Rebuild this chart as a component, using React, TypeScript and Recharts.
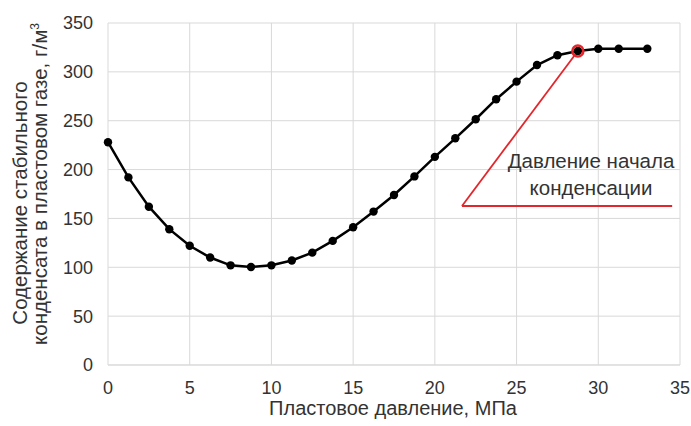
import React from "react";
import {
  ComposedChart,
  Line,
  XAxis,
  YAxis,
  CartesianGrid,
  ReferenceLine,
  ReferenceDot,
  Label,
} from "recharts";

const pressure = [0, 1.25, 2.5, 3.75, 5, 6.25, 7.5, 8.75, 10, 11.25, 12.5, 13.75, 15, 16.25, 17.5, 18.75, 20, 21.25, 22.5, 23.75, 25, 26.25, 27.5, 28.75, 30, 31.25, 33];
const content = [228, 192, 162, 139, 122, 110, 102, 100.3, 102, 107, 115, 127, 141, 157, 174, 193, 213, 232, 251.5, 272, 290, 307, 317, 321.4, 323.7, 323.7, 323.7];
const xTicks = [0, 5, 10, 15, 20, 25, 30, 35];
const yTicks = [0, 50, 100, 150, 200, 250, 300, 350];

const dewPoint = { x: 28.75, y: 321.4 };
const annotationCorner = { x: 21.66, y: 162.7 };
const annotationEnd = { x: 34.52, y: 162.7 };
const annotationText = ["Давление начала", "конденсации"];
const xTitle = "Пластовое давление, МПа";
const yTitle1 = "Содержание стабильного";
const yTitle2 = "конденсата в пластовом газе, г/м";

const data = pressure.map((x, i) => ({ x, y: content[i] }));

const RED = "#e3262b";
const TEXT = "#333333";
const GRID = "#d9d9d9";

export default function App() {
  return (
    <div
      style={{
        position: "absolute",
        left: 0,
        top: 0,
        width: 691,
        height: 426,
        background: "#fff",
        fontFamily: "'Liberation Sans', Arial, sans-serif",
      }}
    >
      <ComposedChart
        width={691}
        height={426}
        data={data}
        margin={{ top: 23, right: 11, bottom: 0, left: 0 }}
      >
        <CartesianGrid stroke={GRID} strokeWidth={1} />
        <XAxis
          type="number"
          dataKey="x"
          domain={[0, 35]}
          ticks={xTicks}
          height={61}
          tickLine={false}
          tickSize={0}
          tickMargin={16}
          axisLine={{ stroke: GRID }}
          tick={{ fill: TEXT, fontSize: 18 }}
          interval={0}
        >
          <Label
            content={() => (
              <text x={393} y={415} textAnchor="middle" fill={TEXT} fontSize={20}>
                {xTitle}
              </text>
            )}
          />
        </XAxis>
        <YAxis
          type="number"
          domain={[0, 350]}
          ticks={yTicks}
          width={108}
          tickLine={false}
          tickSize={0}
          tickMargin={15}
          axisLine={false}
          tick={{ fill: TEXT, fontSize: 18 }}
          interval={0}
        >
          <Label
            content={() => (
              <g fill={TEXT} fontSize={20.5}>
                <text x={27} y={203} textAnchor="middle" transform="rotate(-90, 27, 203)">
                  {yTitle1}
                </text>
                <text x={47} y={184} textAnchor="middle" transform="rotate(-90, 47, 184)">
                  {yTitle2}
                  <tspan dy={-8} fontSize={12}>3</tspan>
                </text>
              </g>
            )}
          />
        </YAxis>
        <ReferenceLine
          segment={[annotationCorner, dewPoint]}
          stroke={RED}
          strokeWidth={1.8}
        />
        <ReferenceLine
          segment={[annotationCorner, annotationEnd]}
          stroke={RED}
          strokeWidth={1.8}
        >
          <Label
            content={() => (
              <g fill={TEXT} fontSize={20.5}>
                <text x={591} y={168} textAnchor="middle">{annotationText[0]}</text>
                <text x={591} y={195} textAnchor="middle">{annotationText[1]}</text>
              </g>
            )}
          />
        </ReferenceLine>
        <Line
          type="linear"
          dataKey="y"
          stroke="#000"
          strokeWidth={2.5}
          dot={{ r: 4.2, fill: "#000", stroke: "#000", strokeWidth: 0 }}
          activeDot={false}
          isAnimationActive={false}
        />
        <ReferenceDot
          x={dewPoint.x}
          y={dewPoint.y}
          r={5.5}
          fill="none"
          stroke={RED}
          strokeWidth={2.5}
        />
      </ComposedChart>
    </div>
  );
}
